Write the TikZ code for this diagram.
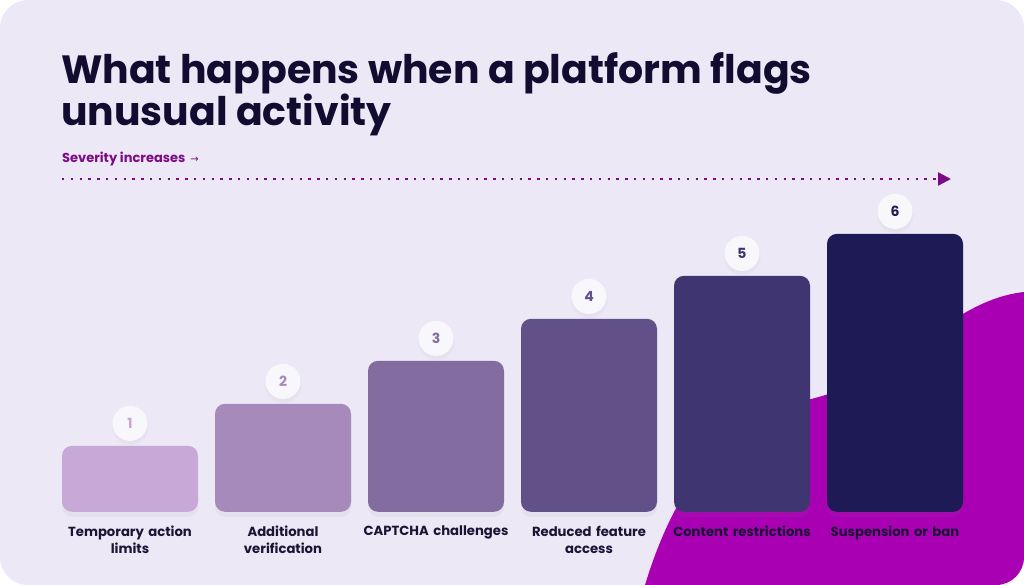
\documentclass[tikz,border=0pt]{standalone}
\usepackage{fontspec}
\setmainfont{Poppins}
\newfontfamily\arrowfont{DejaVu Sans}
\usetikzlibrary{arrows.meta,shadows,positioning}

\definecolor{cardbg}{HTML}{ECE8F6}
\definecolor{blobc}{HTML}{AA00B4}
\definecolor{titlec}{HTML}{110C30}
\definecolor{sevc}{HTML}{7D0A86}
\definecolor{labelc}{HTML}{1A1535}
\definecolor{badgebg}{HTML}{F8F7FC}
\definecolor{barA}{HTML}{C8A8D6}
\definecolor{barB}{HTML}{A58ABB}
\definecolor{barC}{HTML}{836DA0}
\definecolor{barD}{HTML}{625188}
\definecolor{barE}{HTML}{3F3570}
\definecolor{barF}{HTML}{1E1A55}

\begin{document}
\begin{tikzpicture}[x=1pt,y=-1pt]
\tikzstyle{bar} = [rectangle, rounded corners=10pt, minimum width=136pt,
inner sep=0pt, anchor=south, drop shadow={shadow xshift=0pt, shadow yshift=-5pt, opacity=0.07}]
\tikzstyle{badge} = [circle, fill=badgebg, minimum size=35pt, inner sep=0pt,
font=\fontsize{14}{14}\selectfont\bfseries,
circular drop shadow={shadow xshift=0pt, shadow yshift=-3pt, opacity=0.06}]
\tikzstyle{caption} = [text width=160pt, align=center, inner sep=0pt,
font=\fontsize{13.2}{17}\selectfont\bfseries, text=labelc]
\tikzstyle{severity} = [draw=sevc, line width=2.4pt, dash pattern=on 2.4pt off 6.4pt,
-{Triangle[length=13pt,width=13pt]}]

% card and blob
\useasboundingbox (0,0) rectangle (1024,585);
\fill[white] (0,0) rectangle (1024,585);
\fill[cardbg, rounded corners=28pt] (0,0) rectangle (1024,585);
\begin{scope}
\clip[rounded corners=28pt] (0,0) rectangle (1024,585);
\fill[blobc] (645,585) .. controls (680,470) and (735,418) .. (815,398)
  .. controls (900,376) and (950,300) .. (1024,292) -- (1024,585) -- cycle;
\end{scope}

% title
\node[anchor=north west, align=left, inner sep=0pt, text=titlec,
font=\fontsize{39.4}{42.5}\selectfont\bfseries] (title) at (61,52)
{What happens when a platform flags\\unusual activity};
\node[anchor=base west, inner sep=0pt, text=sevc,
font=\fontsize{13}{13}\selectfont\bfseries] (sev) at (62,163)
{Severity increases\hspace{5pt}{\arrowfont\mdseries\fontsize{10}{10}\selectfont →}};

\coordinate (sevstart) at (62,179);
\coordinate (sevend) at (951,179);
\path[severity] (sevstart) -- (sevend);

% steps
\foreach \i/\top/\col/\txt in {1/446/barA/{Temporary action\\limits},
  2/404/barB/{Additional\\verification}, 3/361/barC/{CAPTCHA challenges},
  4/319/barD/{Reduced feature\\access}, 5/276/barE/{Content restrictions},
  6/234/barF/{Suspension or ban}}
{
\pgfmathsetmacro\xc{130+153*(\i-1)}
\pgfmathsetmacro\h{512-\top}
\node[bar, fill=\col, minimum height=\h pt] (bar\i) at (\xc,512) {};
\node[badge, text=\col, above=4.5pt of bar\i] (num\i) {\i};
\node[caption, below=14pt of bar\i] (step\i) {\txt};
}

\end{tikzpicture}
\end{document}
